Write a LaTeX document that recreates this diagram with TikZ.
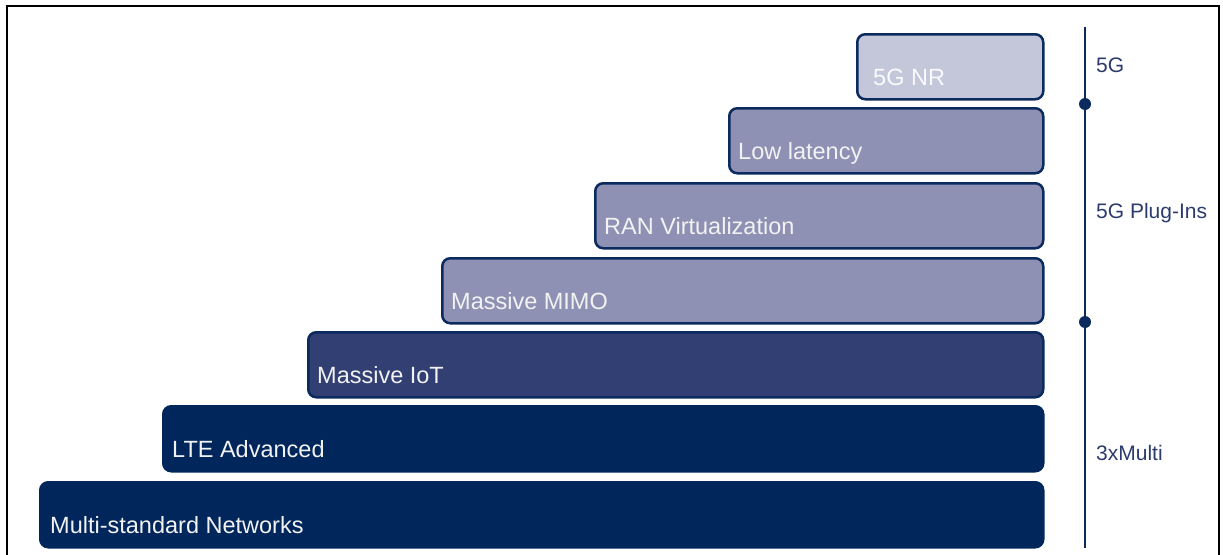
\documentclass[tikz,border=0pt]{standalone}
\usepackage{fontspec}
\setmainfont{Liberation Sans}
\definecolor{edge}{HTML}{0B2A5E}
\definecolor{paleblue}{HTML}{C4C6DA}
\definecolor{midblue}{HTML}{8E91B3}
\definecolor{deepblue}{HTML}{323F72}
\definecolor{darknavy}{HTML}{00265B}
\definecolor{labeltext}{HTML}{2C3B6B}
\begin{document}
\begin{tikzpicture}[x=1pt,y=-1pt,
  stairbox/.style={draw=edge,line width=2.5pt,rounded corners=8pt,inner sep=0pt,
    anchor=north west,minimum height=65pt},
  boxtext/.style={anchor=base west,inner sep=0pt,text=white!95!black,
    font=\fontsize{23.5}{28}\selectfont},
  sidetext/.style={anchor=base west,inner sep=0pt,text=labeltext,
    font=\fontsize{21}{25}\selectfont},
  dot/.style={circle,fill=edge,inner sep=0pt,minimum size=12pt}]
\useasboundingbox (0,0) rectangle (1223,554);
% outer frame, open at the bottom
\draw[black,line width=2.2pt] (7,555) -- (7,6) -- (1219,6) -- (1219,555);
% stair of technology boxes
\node[stairbox,fill=paleblue,minimum width=186pt] (nr)   at (856,33)  {};
\node[stairbox,fill=midblue, minimum width=314pt] (lat)  at (728,107) {};
\node[stairbox,fill=midblue, minimum width=448pt] (ran)  at (594,182) {};
\node[stairbox,fill=midblue, minimum width=601pt] (mimo) at (441,257) {};
\node[stairbox,fill=deepblue,minimum width=735pt] (iot)  at (307,331) {};
\node[stairbox,fill=darknavy,draw=darknavy,minimum width=880pt] (lte) at (162,405) {};
\node[stairbox,fill=darknavy,draw=darknavy,minimum width=1003pt] (msn) at (39,481) {};
% box captions
\node[boxtext,text=white!92!paleblue] (nr-t) at ([xshift=17pt,yshift=15.5pt]nr.south west) {5G NR};
\node[boxtext] (lat-t)  at ([xshift=10pt,yshift=15.5pt]lat.south west)  {Low latency};
\node[boxtext] (ran-t)  at ([xshift=10pt,yshift=15.5pt]ran.south west)  {RAN Virtualization};
\node[boxtext] (mimo-t) at ([xshift=10pt,yshift=15.5pt]mimo.south west) {Massive MIMO};
\node[boxtext] (iot-t)  at ([xshift=10pt,yshift=15.5pt]iot.south west)  {Massive IoT};
\node[boxtext] (lte-t)  at ([xshift=10pt,yshift=15.5pt]lte.south west)  {LTE Advanced};
\node[boxtext] (msn-t)  at ([xshift=11pt,yshift=15.5pt]msn.south west)  {Multi-standard Networks};
% phase axis on the right
\coordinate (axtop) at (1085,27);
\coordinate (axbot) at (1085,548);
\draw[edge,line width=2pt] (axtop) -- (axbot);
\node[dot] (d1) at (1085,104) {};
\node[dot] (d2) at (1085,322) {};
\node[sidetext] (p1) at (1096,72)  {5G};
\node[sidetext] (p2) at (1096,218) {5G Plug-Ins};
\node[sidetext] (p3) at (1096,460) {3xMulti};
\end{tikzpicture}
\end{document}
